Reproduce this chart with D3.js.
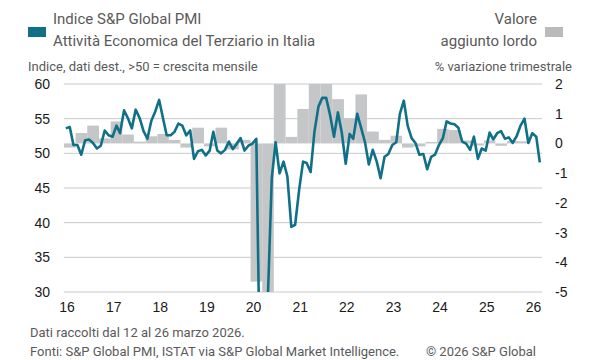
<!DOCTYPE html>
<html>
<head>
<meta charset="utf-8">
<script src="https://cdn.jsdelivr.net/npm/d3@7"></script>
<style>
  body { margin: 0; background: #fff; }
  .lbl { font-family: Roboto, "Noto Sans", sans-serif; fill: #5a5a5a; }
  .tick text { font-family: "Liberation Sans", Arial, sans-serif; font-size: 14px; fill: #1a1a1a; }
</style>
</head>
<body>
<div id="chart"></div>
<script>
// Year labels on the x axis
const yearLabels = ["16", "17", "18", "19", "20", "21", "22", "23", "24", "25", "26"];
const leftTicks = [30, 35, 40, 45, 50, 55, 60];
const rightTicks = [-5, -4, -3, -2, -1, 0, 1, 2];

// Monthly PMI, Jan 2016 - Mar 2026
const pmi = [
  53.6, 53.8, 51.2, 51.2, 49.8, 51.9, 52.0, 51.5, 50.7, 51.1, 53.3, 52.6,
  52.4, 54.0, 52.9, 56.2, 55.1, 53.6, 56.3, 55.1, 53.2, 52.1, 54.7, 56.0,
  57.7, 55.0, 52.6, 52.6, 53.1, 54.3, 54.0, 52.6, 53.3, 49.2, 50.3, 50.5,
  49.7, 50.4, 53.1, 50.4, 50.0, 50.5, 51.7, 50.6, 51.4, 52.2, 50.4, 51.1,
  51.4, 52.1, 17.4, 10.8, 28.9, 46.4, 51.6, 47.1, 48.8, 46.7, 39.4, 39.7,
  44.7, 48.8, 48.6, 47.3, 53.1, 56.7, 58.0, 58.0, 55.5, 52.4, 55.9, 53.0,
  48.5, 52.8, 52.1, 55.7, 53.7, 51.6, 48.4, 50.5, 48.8, 46.4, 49.5, 49.9,
  51.2, 51.6, 55.7, 57.6, 54.0, 52.2, 51.5, 49.8, 49.9, 47.7, 49.5, 49.8,
  51.2, 52.2, 54.6, 54.3, 54.2, 53.7, 51.7, 51.4, 50.5, 52.4, 49.2, 50.7,
  50.4, 53.0, 52.0, 52.9, 53.2, 52.1, 52.3, 51.5, 52.5, 54.0, 55.0, 51.5,
  52.9, 52.4, 48.7
];

// Quarterly gross value added, % q/q, 2016 Q1 - 2025 Q4
const gva = [
  -0.14, 0.35, 0.60, 0.17,
  0.74, 0.30, 0.06, 0.24,
  0.32, 0.12, -0.14, 0.53,
  -0.10, 0.53, -0.20, 0.12,
  -4.65, -12.5, 14.5, 0.22,
  1.16, 2.6, 2.5, 1.49,
  0.85, 1.65, 0.40, 0.12,
  0.26, -0.14, -0.10, 0.05,
  0.49, 0.45, 0.10, -0.07,
  0.10, -0.08, 0.08, 0.07
];

const W = 600, H = 360;
const plot = { left: 64, right: 542, top: 84, bottom: 292 };
const teal = "#0f7088";
const grey = "#c5c6c8";

const svg = d3.select("#chart").append("svg")
  .attr("width", W)
  .attr("height", H);

const x = d3.scaleTime()
  .domain([new Date(2016, 0, 1), new Date(2026, 3, 1)])
  .range([plot.left, plot.right]);
const yL = d3.scaleLinear().domain([30, 60]).range([plot.bottom, plot.top]);
const yR = d3.scaleLinear().domain([-5, 2]).range([plot.bottom, plot.top]);

svg.append("defs").append("clipPath")
  .attr("id", "plotClip")
  .append("rect")
  .attr("x", plot.left)
  .attr("y", plot.top)
  .attr("width", plot.right - plot.left)
  .attr("height", plot.bottom - plot.top);

// Gridlines
svg.append("g")
  .selectAll("line")
  .data(leftTicks)
  .join("line")
  .attr("x1", plot.left)
  .attr("x2", plot.right)
  .attr("y1", d => yL(d))
  .attr("y2", d => yL(d))
  .attr("stroke", "#c9c9c9")
  .attr("stroke-width", 1);

// Bars
const quarters = gva.map((v, i) => ({
  start: new Date(2016 + Math.floor(i / 4), (i % 4) * 3, 1),
  end: new Date(2016 + Math.floor(i / 4), (i % 4) * 3 + 3, 1),
  v
}));

svg.append("g")
  .attr("clip-path", "url(#plotClip)")
  .selectAll("rect")
  .data(quarters)
  .join("rect")
  .attr("x", d => x(d.start))
  .attr("width", d => x(d.end) - x(d.start))
  .attr("y", d => Math.min(yR(d.v), yR(0)))
  .attr("height", d => Math.abs(yR(d.v) - yR(0)))
  .attr("fill", grey);

// PMI line
const months = pmi.map((v, i) => ({ date: new Date(2016, i, 15), v }));
const line = d3.line()
  .x(d => x(d.date))
  .y(d => yL(d.v));

svg.append("path")
  .datum(months)
  .attr("clip-path", "url(#plotClip)")
  .attr("fill", "none")
  .attr("stroke", teal)
  .attr("stroke-width", 2.6)
  .attr("stroke-linejoin", "round")
  .attr("d", line);

// Axes
const leftAxis = svg.append("g")
  .attr("transform", `translate(${plot.left},0)`)
  .call(d3.axisLeft(yL).tickValues(leftTicks).tickSize(0).tickPadding(14));
leftAxis.select(".domain").remove();

const rightAxis = svg.append("g")
  .attr("transform", `translate(${plot.right},0)`)
  .call(d3.axisRight(yR).tickValues(rightTicks).tickSize(0).tickPadding(13)
    .tickFormat(d => String(d)));
rightAxis.select(".domain").remove();

const yearTicks = yearLabels.map(s => new Date(2000 + +s, 0, 20));
const bottomAxis = svg.append("g")
  .attr("transform", `translate(0,${plot.bottom})`)
  .call(d3.axisBottom(x).tickValues(yearTicks).tickSize(0).tickPadding(10)
    .tickFormat((d, i) => yearLabels[i]));
bottomAxis.select(".domain").remove();

// Legend
svg.append("rect").attr("x", 28).attr("y", 27).attr("width", 18).attr("height", 10).attr("fill", teal);
svg.append("text").attr("class", "lbl").attr("x", 53).attr("y", 24)
  .attr("font-size", 15).text("Indice S&P Global PMI");
svg.append("text").attr("class", "lbl").attr("x", 53).attr("y", 46)
  .attr("font-size", 15).text("Attività Economica del Terziario in Italia");

svg.append("rect").attr("x", 545).attr("y", 27).attr("width", 18).attr("height", 10).attr("fill", "#b9babc");
svg.append("text").attr("class", "lbl").attr("x", 537).attr("y", 24)
  .attr("text-anchor", "end").attr("font-size", 15).text("Valore");
svg.append("text").attr("class", "lbl").attr("x", 537).attr("y", 46)
  .attr("text-anchor", "end").attr("font-size", 15).text("aggiunto lordo");

// Axis titles
svg.append("text").attr("class", "lbl").attr("x", 28).attr("y", 71)
  .attr("font-size", 13).text("Indice, dati dest., >50 = crescita mensile");
svg.append("text").attr("class", "lbl").attr("x", 572).attr("y", 71)
  .attr("text-anchor", "end").attr("font-size", 13).text("% variazione trimestrale");

// Footer
svg.append("text").attr("class", "lbl").attr("x", 30).attr("y", 337)
  .attr("font-size", 13).text("Dati raccolti dal 12 al 26 marzo 2026.");
svg.append("text").attr("class", "lbl").attr("x", 30).attr("y", 356)
  .attr("font-size", 13).text("Fonti: S&P Global PMI, ISTAT via S&P Global Market Intelligence.");
svg.append("text").attr("class", "lbl").attr("x", 536).attr("y", 356)
  .attr("text-anchor", "end").attr("font-size", 13).text("© 2026 S&P Global");
</script>
</body>
</html>
